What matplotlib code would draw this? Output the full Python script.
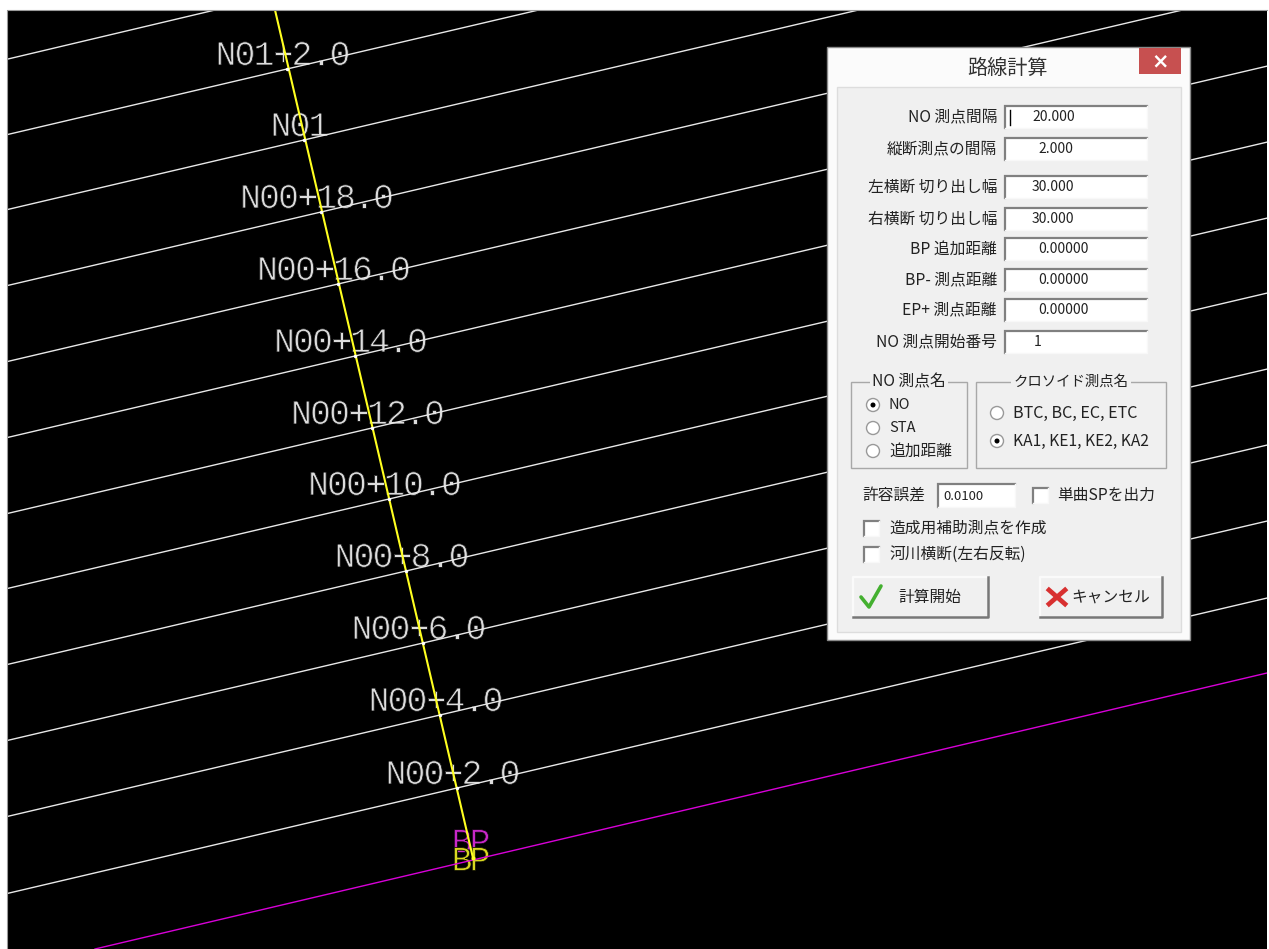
import matplotlib
matplotlib.use('Agg')
import matplotlib.pyplot as plt
import matplotlib.patheffects as pe
from matplotlib.patches import Rectangle, Circle

JP = ['Noto Sans CJK JP', 'DejaVu Sans']
plt.rcParams['font.family'] = JP

W, H = 1269, 949

# road centre line stations, in screen pixels
station_names = ['NO1+2.0', 'NO1', 'NO0+18.0', 'NO0+16.0', 'NO0+14.0', 'NO0+12.0',
                 'NO0+10.0', 'NO0+8.0', 'NO0+6.0', 'NO0+4.0', 'NO0+2.0']
station_x = [287, 304, 321, 338, 355, 372, 389, 406, 423, 440, 457]
station_y = [69, 140, 212, 284, 356, 428, 499, 571, 643, 715, 788]
top_line_x = [8, 215]
top_line_y = [59, 10]
center_x = [275, 473]
center_y = [10, 858]
bp_x = [95, 1267]
bp_y = [949, 673]
section_slope = -0.2345

field_labels = ['NO 測点間隔', '縦断測点の間隔', '左横断 切り出し幅', '右横断 切り出し幅',
                'BP 追加距離', 'BP- 測点距離', 'EP+ 測点距離', 'NO 測点開始番号']
field_values = ['20.000', '2.000', '30.000', '30.000', '0.00000', '0.00000', '0.00000', '1']
field_tops = [106, 138, 176, 208, 238, 269, 299, 331]
value_lefts = [1032, 1038, 1032, 1032, 1038, 1038, 1038, 1034]

# thins the mono glyphs so they read like the CAD stroke font
THIN = [pe.Normal(), pe.Stroke(linewidth=0.55, foreground='black')]


def stroke_text(ax, x, y, c, color, size):
    t = ax.text(x, y, c, color=color, fontsize=size, family='Liberation Mono',
                ha='center', va='center', zorder=1)
    t.set_path_effects(THIN)


def draw_cad(ax):
    ax.set_facecolor('black')
    ax.set_xticks([])
    ax.set_yticks([])
    for s in ax.spines.values():
        s.set_visible(False)
    ax.set_xlim(7, 1267)
    ax.set_ylim(949, 10)

    ax.plot(top_line_x, top_line_y, color='#e8e8e8', lw=1.0, zorder=2)
    for x, y in zip(station_x, station_y):
        ax.plot([8, 1267], [y + section_slope * (8 - x), y + section_slope * (1267 - x)],
                color='#e8e8e8', lw=1.0, zorder=2)
    ax.plot(bp_x, bp_y, color='#d800d8', lw=1.0, zorder=2)
    ax.plot(center_x, center_y, color='#ffff20', lw=1.5, zorder=3)
    ax.plot(station_x, station_y, ls='', marker='o', ms=2.5, mfc='white', mec='none', zorder=4)
    ax.plot(center_x[1], center_y[1], ls='', marker='o', ms=3, mfc='#ffff20', mec='none', zorder=4)

    # stroke font in the CAD view is wide, so place it letter by letter
    pitch = 19.0
    for name, x, y in zip(station_names, station_x, station_y):
        left = x - 4 - pitch * (len(name) - 1) / 2
        for i, c in enumerate(name):
            stroke_text(ax, left + i * pitch, y - 13.5, '0' if c == 'O' else c, '#dcdcdc', 25)
    for c, cx in zip('BP', [462, 480]):
        stroke_text(ax, cx, 843, c, '#c828c8', 25)
        stroke_text(ax, cx, 861, c, '#d8d820', 25)


def sunken(ax, x0, y0, x1, y1):
    ax.add_patch(Rectangle((x0, y0), x1 - x0, y1 - y0, fc='white', ec='none'))
    ax.plot([x0, x0, x1], [y1, y0, y0], color='#808080', lw=1.6, solid_joinstyle='miter')
    ax.plot([x0, x1, x1], [y1, y1, y0], color='#f8f8f8', lw=1.0)


def raised(ax, x0, y0, x1, y1):
    ax.add_patch(Rectangle((x0, y0), x1 - x0, y1 - y0, fc='#f0f0f0', ec='none'))
    ax.plot([x0, x0, x1], [y1, y0, y0], color='#fafafa', lw=1.6)
    ax.plot([x0, x1, x1], [y1, y1, y0], color='#777777', lw=1.8)


def label(ax, x, y, s, ha='left', size=11.3, color='#222222'):
    ax.text(x, y, s, ha=ha, va='center', fontsize=size, color=color, family=JP)


def radio(ax, x, y, on):
    ax.add_patch(Circle((x, y), 6.5, fc='white', ec='#999999', lw=1.0))
    if on:
        ax.add_patch(Circle((x, y), 2.5, fc='black', ec='none'))


def check(ax, x0, y0):
    sunken(ax, x0, y0, x0 + 15, y0 + 15)


def group(ax, x0, y0, x1, y1, title, tx, size=11.3):
    ax.add_patch(Rectangle((x0, y0), x1 - x0, y1 - y0, fc='none', ec='#a8a8a8', lw=1.0))
    ax.text(tx, y0, title, ha='center', va='center', fontsize=size, color='#222222',
            family=JP, bbox=dict(fc='#f0f0f0', ec='none', pad=1.5))


def draw_dialog(ax):
    ax.set_xlim(0, W)
    ax.set_ylim(H, 0)
    ax.axis('off')
    ax.patch.set_alpha(0)

    # thin grey frame of the drawing view
    ax.plot([7, 7, 1267], [949, 10, 10], color='#9a9a9a', lw=0.8)

    ax.add_patch(Rectangle((827, 47), 363, 593, fc='#fbfbfb', ec='#8a8a8a', lw=1.0))
    ax.add_patch(Rectangle((837, 87), 344, 545, fc='#f0f0f0', ec='#dddddd', lw=1.0))
    ax.text(1008, 68, '路線計算', ha='center', va='center', fontsize=14.5, color='#333333', family=JP)
    ax.add_patch(Rectangle((1139, 48), 42, 26, fc='#c75050', ec='none'))
    ax.text(1160, 61, '×', ha='center', va='center', fontsize=15, color='white',
            family='DejaVu Sans', fontweight='bold')

    for name, val, top, vx in zip(field_labels, field_values, field_tops, value_lefts):
        sunken(ax, 1005, top, 1147, top + 22)
        label(ax, 997, top + 11, name, ha='right')
        label(ax, vx, top + 11, val, size=10)
    ax.plot([1010, 1010], [110, 125], color='black', lw=1.0)

    group(ax, 851, 382, 967, 468, 'NO 測点名', 909)
    radio(ax, 873, 405, True)
    radio(ax, 873, 428, False)
    radio(ax, 873, 451, False)
    label(ax, 889, 405, 'NO', size=10.5)
    label(ax, 889, 428, 'STA', size=10.5)
    label(ax, 889, 451, '追加距離')

    group(ax, 976, 382, 1166, 468, 'クロソイド測点名', 1071, size=10.4)
    radio(ax, 997, 413, False)
    radio(ax, 997, 441, True)
    label(ax, 1013, 413, 'BTC, BC, EC, ETC', size=11.6)
    label(ax, 1013, 441, 'KA1, KE1, KE2, KA2', size=11.2)

    label(ax, 862, 495, '許容誤差')
    sunken(ax, 938, 484, 1015, 507)
    label(ax, 943, 496, '0.0100', size=9.5)
    check(ax, 1033, 488)
    label(ax, 1057, 495, '単曲SPを出力')
    check(ax, 864, 521)
    label(ax, 889, 528, '造成用補助測点を作成')
    check(ax, 864, 547)
    label(ax, 889, 554, '河川横断(左右反転)')

    raised(ax, 853, 577, 988, 617)
    ax.plot([861, 869, 881], [597, 607, 586], color='#44b030', lw=2.6, solid_capstyle='round')
    label(ax, 930, 597, '計算開始', ha='center')
    raised(ax, 1040, 577, 1162, 617)
    ax.plot([1049, 1065], [590, 604], color='#d83030', lw=3.4)
    ax.plot([1065, 1049], [590, 604], color='#d83030', lw=3.4)
    label(ax, 1111, 597, 'キャンセル', ha='center')


fig = plt.figure(figsize=(W / 100, H / 100), dpi=100, facecolor='white')
cad = fig.add_axes([7 / W, 0, 1260 / W, 939 / H])
draw_cad(cad)
dlg = fig.add_axes([0, 0, 1, 1])
draw_dialog(dlg)
fig.savefig('out.png', dpi=100)
